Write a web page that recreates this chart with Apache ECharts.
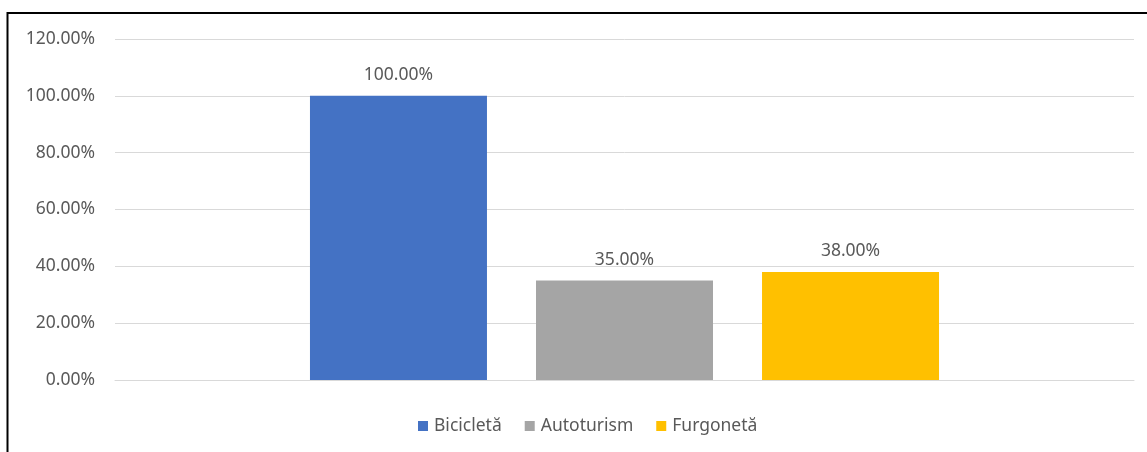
<!DOCTYPE html>
<html>
<head>
<meta charset="utf-8">
<script src="https://cdn.jsdelivr.net/npm/echarts@6/dist/echarts.min.js"></script>
<style>
html,body{margin:0;padding:0;background:#fff;}
#c{width:1147px;height:452px;}
</style>
</head>
<body>
<div id="c"></div>
<script>
const categories = [''];
const seriesNames = ['Bicicletă', 'Autoturism', 'Furgonetă'];
const seriesValues = [[100], [35], [38]];
const colors = ['#4472C4', '#A5A5A5', '#FFC000'];
const yTicks = [0, 20, 40, 60, 80, 100, 120];

const FONT = 'Noto Sans';
const FS = 17.5;
const chart = echarts.init(document.getElementById('c'), null, {renderer: 'canvas'});
chart.setOption({
  animation: false,
  backgroundColor: '#fff',
  color: colors,
  textStyle: {fontFamily: FONT},
  graphic: [{
    type: 'rect', z: 100, silent: true, x: 0, y: 0,
    shape: {x: 7.5, y: 13, width: 1150, height: 450},
    style: {fill: 'none', stroke: '#000', lineWidth: 2}
  }],
  grid: {left: 115, right: 13, top: 39, bottom: 72, containLabel: false},
  legend: {
    bottom: 17, left: 418, padding: 0,
    itemWidth: 10, itemHeight: 10, itemGap: 23,
    icon: 'rect',
    textStyle: {color: '#595959', fontSize: FS, fontFamily: FONT, padding: [0, 0, 0, 1]},
    data: seriesNames
  },
  xAxis: {
    type: 'category', data: categories,
    axisLine: {lineStyle: {color: '#D9D9D9', width: 1}},
    axisTick: {show: false},
    axisLabel: {show: false}
  },
  yAxis: {
    type: 'value', min: yTicks[0], max: yTicks[yTicks.length - 1], interval: 20,
    axisLine: {show: false}, axisTick: {show: false},
    axisLabel: {color: '#595959', fontSize: FS, fontFamily: FONT, margin: 20,
      formatter: v => v.toFixed(2) + '%'},
    splitLine: {lineStyle: {color: '#D9D9D9', width: 1}}
  },
  series: seriesNames.map((n, i) => ({
    name: n, type: 'bar', data: seriesValues[i],
    barWidth: 177, barGap: '27.7%',
    itemStyle: {color: colors[i]},
    label: {show: true, position: 'top', distance: 12, color: '#595959', fontSize: FS,
      fontFamily: FONT, formatter: p => p.value.toFixed(2) + '%'}
  }))
});
</script>
</body>
</html>
